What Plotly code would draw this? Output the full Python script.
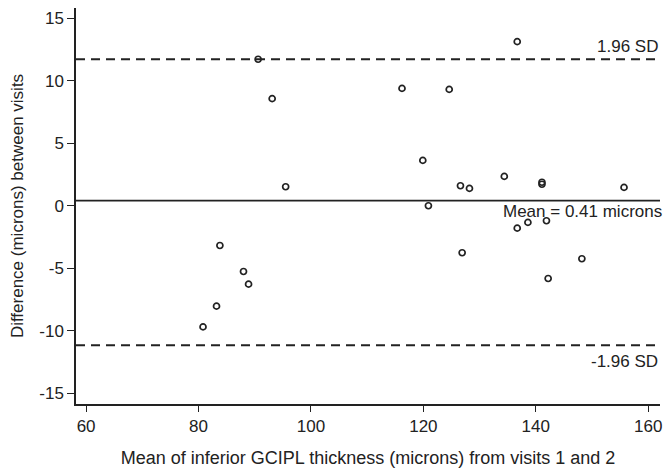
import plotly.graph_objects as go

# Bland-Altman data
mean_thickness = [90.6, 93.1, 95.5, 83.8, 88.0, 88.9, 83.2, 80.8,
                  116.2, 124.6, 119.9, 120.9, 126.6, 128.2, 134.4, 136.7,
                  141.1, 141.1, 155.7, 136.7, 138.6, 141.9, 126.9, 148.2, 142.2]
difference = [11.72, 8.57, 1.52, -3.18, -5.26, -6.27, -8.03, -9.69,
              9.39, 9.31, 3.63, 0.0, 1.60, 1.39, 2.35, 13.13,
              1.88, 1.72, 1.47, -1.79, -1.33, -1.20, -3.76, -4.24, -5.82]
mean_diff = 0.41
upper_loa = 11.72
lower_loa = -11.16
x_ticks = [60, 80, 100, 120, 140, 160]
y_ticks = [-15, -10, -5, 0, 5, 10, 15]
y_tick_labels = ["-15", "-10", "-5", "0", "5", "10", "15"]
labels = {"upper": "1.96 SD", "mean": "Mean = 0.41 microns", "lower": "-1.96 SD"}

FONT = "Liberation Sans, Arial, sans-serif"
INK = "#222222"

fig = go.Figure()
fig.add_trace(go.Scatter(
    x=mean_thickness, y=difference, mode="markers",
    marker=dict(symbol="circle-open", size=6, color=INK, line=dict(width=1.7, color=INK)),
    showlegend=False, hoverinfo="x+y"))

for yv, dash in [(upper_loa, "9px,6px"), (mean_diff, "solid"), (lower_loa, "9px,6px")]:
    fig.add_shape(type="line", xref="paper", x0=0, x1=1, yref="y", y0=yv, y1=yv,
                  line=dict(color=INK, width=1.8, dash=dash))

fig.add_annotation(x=1, xref="paper", y=12.72, yref="y", text=labels["upper"],
                   showarrow=False, xanchor="right", yanchor="middle",
                   font=dict(family=FONT, size=17, color=INK))
fig.add_annotation(x=1.006, xref="paper", y=-0.48, yref="y", text=labels["mean"],
                   showarrow=False, xanchor="right", yanchor="middle",
                   font=dict(family=FONT, size=17, color=INK))
fig.add_annotation(x=1, xref="paper", y=-12.42, yref="y", text=labels["lower"],
                   showarrow=False, xanchor="right", yanchor="middle",
                   font=dict(family=FONT, size=17, color=INK))

fig.update_layout(
    width=663, height=466,
    margin=dict(l=68, r=11, t=0, b=70),
    paper_bgcolor="white", plot_bgcolor="white",
    font=dict(family=FONT, size=16, color=INK),
    xaxis=dict(range=[58.2, 162.1], tickmode="array", tickvals=x_ticks,
               ticks="outside", ticklen=6, tickwidth=1.4, tickcolor=INK,
               showline=True, linecolor=INK, linewidth=1.5, showgrid=False, zeroline=False,
               title=dict(text="Mean of inferior GCIPL thickness (microns) from visits 1 and 2",
                          font=dict(size=18), standoff=16),
               tickfont=dict(size=17)),
    yaxis=dict(range=[-15.86, 15.82], tickmode="array", tickvals=y_ticks, ticktext=y_tick_labels,
               ticks="outside", ticklen=7, tickwidth=1.4, tickcolor=INK,
               showline=True, linecolor=INK, linewidth=1.5, showgrid=False, zeroline=False,
               title=dict(text="Difference (microns) between visits",
                          font=dict(size=17), standoff=14),
               tickfont=dict(size=17)),
)

fig.write_html("out.html")
